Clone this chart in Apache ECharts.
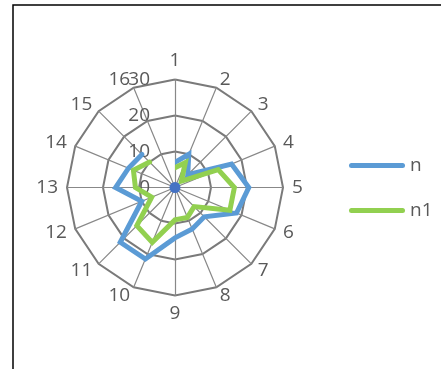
<!DOCTYPE html>
<html>
<head>
<meta charset="utf-8">
<script src="https://cdn.jsdelivr.net/npm/echarts@6/dist/echarts.min.js"></script>
<style>
  html, body { margin: 0; padding: 0; background: #fff; }
  #chart { width: 447px; height: 369px; }
</style>
</head>
<body>
<div id="chart"></div>
<script>
// Spokes of the radar, clockwise from the top
const categories = ['1', '2', '3', '4', '5', '6', '7', '8', '9', '10', '11', '12', '13', '14', '15', '16'];
// Series values per spoke (spoke 16 has no value, so the path stays open there)
const nValues  = [7, 10, 5, 17, 20.5, 18.5, 11.5, 12.5, 14, 21.5, 21.5, 10, 16.5, 14, 13, null];
const n1Values = [5.5, 7.5, 2.5, 13, 16.5, 16.5, 7.5, 9, 9, 16.5, 15, 7, 11, 12.5, 10, null];
// Origin marker
const baseValues = [0];
// Value axis ticks
const valueTicks = [0, 10, 20, 30];

const FONT = "'Open Sans', 'Noto Sans', sans-serif";
const TEXT = '#595959';
const CENTER = [175, 187.5];
const RADIUS = 108;
const vMax = valueTicks[valueTicks.length - 1];

// ECharts radar lays indicators out counter-clockwise, so list spoke 1 then 16..2
const radarOrder = [categories[0]].concat(categories.slice(1).reverse());

const chart = echarts.init(document.getElementById('chart'), null, { renderer: 'canvas' });
chart.setOption({
  animation: false,
  backgroundColor: '#fff',
  textStyle: { fontFamily: FONT },
  graphic: [{
    type: 'polyline',
    silent: true,
    shape: { points: [[13, 380], [13, 5], [441, 5]] },
    style: { stroke: '#000', lineWidth: 1.5, fill: null }
  }],
  radar: {
    center: CENTER,
    radius: RADIUS,
    shape: 'polygon',
    startAngle: 90,
    splitNumber: valueTicks.length - 1,
    nameGap: 9,
    axisName: { color: TEXT, fontSize: 19, fontFamily: FONT },
    indicator: radarOrder.map((c, i) => i === 0
      ? { name: c, min: valueTicks[0], max: vMax, axisLabel: { show: true } }
      : { name: c, min: valueTicks[0], max: vMax }),
    axisLine: { lineStyle: { color: '#888888', width: 1.2 } },
    splitLine: { lineStyle: { color: '#7a7a7a', width: 2 } },
    splitArea: { show: false },
    axisTick: { show: false },
    axisLabel: { show: false, color: TEXT, fontSize: 19, fontFamily: FONT, margin: 25 }
  },
  polar: { center: CENTER, radius: RADIUS },
  angleAxis: {
    type: 'category',
    data: categories,
    boundaryGap: false,
    startAngle: 90,
    clockwise: true,
    axisLine: { show: false },
    axisTick: { show: false },
    axisLabel: { show: false },
    splitLine: { show: false }
  },
  radiusAxis: {
    type: 'value',
    min: valueTicks[0],
    max: vMax,
    axisLine: { show: false },
    axisTick: { show: false },
    axisLabel: { show: false },
    splitLine: { show: false }
  },
  legend: {
    data: ['n', 'n1'],
    orient: 'vertical',
    left: 344,
    top: 151,
    itemWidth: 56,
    itemHeight: 5,
    itemGap: 26,
    icon: 'path://M2.5,0H53.5A2.5,2.5,0,0,1,53.5,5H2.5A2.5,2.5,0,0,1,2.5,0Z',
    textStyle: { color: TEXT, fontSize: 19, fontFamily: FONT }
  },
  series: [
    {
      name: 'n', type: 'line', coordinateSystem: 'polar', data: nValues,
      symbol: 'none', connectNulls: false,
      itemStyle: { color: '#5B9BD5' },
      lineStyle: { color: '#5B9BD5', width: 5, cap: 'round', join: 'miter' }
    },
    {
      name: 'n1', type: 'line', coordinateSystem: 'polar', data: n1Values,
      symbol: 'none', connectNulls: false,
      itemStyle: { color: '#92D050' },
      lineStyle: { color: '#92D050', width: 5, cap: 'round', join: 'miter' }
    },
    {
      name: 'origin', type: 'line', coordinateSystem: 'polar', data: baseValues,
      symbol: 'circle', symbolSize: 11, showSymbol: true,
      itemStyle: { color: '#4472C4' },
      lineStyle: { width: 0 }
    }
  ]
});
</script>
</body>
</html>
